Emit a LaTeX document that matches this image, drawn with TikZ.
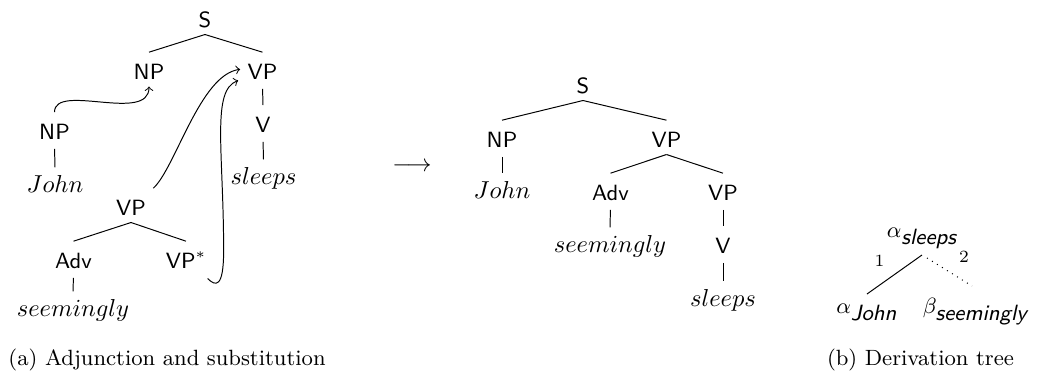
\documentclass[tikz,border=0pt]{standalone}
\usetikzlibrary{calc}
\begin{document}
\begin{tikzpicture}[x=0.408pt, y=-0.408pt, line width=0.4pt,
  lab/.style={font=\sffamily\small, inner sep=2.86pt, text height=7.88pt, text depth=0pt, anchor=base},
  leaf/.style={inner sep=2.86pt, anchor=base},
  vedge/.style={shorten <=1pt},
  dnode/.style={font=\small, inner sep=0pt, anchor=base},
  elab/.style={font=\scriptsize, inner sep=0pt, anchor=base},
  captxt/.style={font=\small, inner sep=0pt}]
\useasboundingbox (0,0) rectangle (1038,376);
% ---- (a) elementary trees
\node[lab] (aS) at (205,27) {S};
\node[lab] (aNP) at (149,79) {NP};
\node[lab] (aVP) at (262.5,79) {VP};
\node[lab] (aV) at (263,132) {V};
\node[leaf] (aSl) at (263.5,184) {$sleeps$};
\node[lab] (aNPb) at (54.5,139) {NP};
\node[leaf] (aJ) at (55,192) {$John$};
\node[lab] (aVPa) at (131,215) {VP};
\node[lab] (aAdv) at (73.5,268) {Adv};
\node[lab] (aVPs) at (186,268) {VP$^*$};
\node[leaf] (aSe) at (73,316) {$seemingly$};
\draw (aS.south) -- (aNP.north);
\draw (aS.south) -- (aVP.north);
\draw[vedge] (aVP.south) -- (aV.north);
\draw[vedge] (aV.south) -- (aSl.north);
\draw[vedge] (aNPb.south) -- (aJ.north);
\draw (aVPa.south) -- (aAdv.north);
\draw (aVPa.south) -- (aVPs.north);
\draw[vedge] (aAdv.south) -- (aSe.north);
% substitution / adjunction arrows
\draw[->] (aNPb.north) .. controls +(0,-30) and +(0,37) .. (aNP.south);
\draw[->] (aVPa.north east) .. controls +(22,-20) and +(-40,5) .. (aVP.west);
\draw[->] ($(aVPs.south east)+(-6,3)$) .. controls +(8,8) and +(0,38) .. ($(aVPs.south east)+(10,-25)$)
   .. controls +(0,-100) and +(-27,10) .. ($(aVP.south west)+(-2,-6)$);
% ---- arrow
\node[inner sep=0pt, anchor=base] (arr) at (412,171) {$\longrightarrow$};
% ---- derived tree
\node[lab] (bS) at (583,93) {S};
\node[lab] (bNP) at (502,147) {NP};
\node[lab] (bVP) at (666.5,147) {VP};
\node[leaf] (bJ) at (502,198) {$John$};
\node[lab] (bAdv) at (610.5,200) {Adv};
\node[lab] (bVPb) at (723,200) {VP};
\node[leaf] (bSe) at (610,252) {$seemingly$};
\node[lab] (bV) at (723,253) {V};
\node[leaf] (bSl) at (723,306) {$sleeps$};
\draw (bS.south) -- (bNP.north);
\draw (bS.south) -- (bVP.north);
\draw[vedge] (bNP.south) -- (bJ.north);
\draw (bVP.south) -- (bAdv.north);
\draw (bVP.south) -- (bVPb.north);
\draw[vedge] (bAdv.south) -- (bSe.north);
\draw[vedge] (bVPb.south) -- (bV.north);
\draw[vedge] (bV.south) -- (bSl.north);
% ---- derivation tree
\node[dnode] (ds) at (922,237) {$\alpha_{\mbox{\sffamily\itshape sleeps}}$};
\node[dnode] (dj) at (867,313) {$\alpha_{\mbox{\sffamily\itshape John}}$};
\node[dnode] (db) at (975.5,313) {$\beta_{\mbox{\sffamily\itshape seemingly}}$};
\draw ($(ds.base)+(0,18)$) -- ($(dj.base)+(0,-19)$);
\draw[dotted] ($(ds.base)+(5,21)$) -- ($(db.base)+(-3.5,-27)$);
\node[elab] (l1) at (879.5,266) {1};
\node[elab] (l2) at (964,262) {2};
% ---- captions
\node[captxt, anchor=base west] (capa) at (8,365) {(a) Adjunction and substitution};
\node[captxt, anchor=base] (capb) at (920.5,365) {(b) Derivation tree};
\end{tikzpicture}
\end{document}
